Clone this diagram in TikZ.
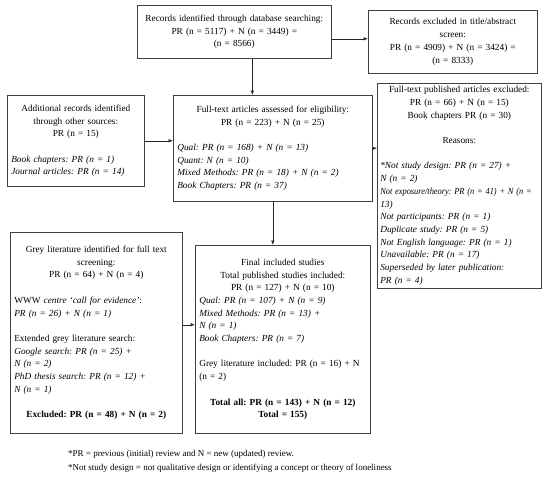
\documentclass[tikz,border=0pt]{standalone}
\usepackage{fontspec}
\usepackage{graphicx}
\setmainfont{Liberation Serif}
\usetikzlibrary{arrows.meta}

\newcommand{\blankline}{\par\vspace{12.7pt}}

\begin{document}
\frenchspacing
\begin{tikzpicture}[x=1pt,y=-1pt,
    box/.style={draw=black!75, line width=0.6pt, anchor=north west, inner sep=4pt,
      font=\fontsize{9.3}{12.7}\selectfont\frenchspacing, align=left},
    flow/.style={draw=black!85, line width=0.6pt, -{Latex[length=4.5pt,width=3.5pt]}},
    note/.style={anchor=west, inner sep=0pt, font=\fontsize{9}{10}\selectfont\frenchspacing}]

  \useasboundingbox (0,0) rectangle (550,480);
  \fill[white] (0,0) rectangle (550,480);

  \node[box, text width=186pt, minimum height=53pt, align=center] (search) at (137,5)
    {Records identified through database searching:\\
     *PR (n = 5117) + N (n = 3449) =\\
     (n = 8566)};
  \node[box, text width=161pt, minimum height=63pt, align=center] (screen) at (368,10)
    {Records excluded in title/abstract\\
     screen:\\
     PR (n = 4909) + N (n = 3424) =\\
     (n = 8333)};
  \node[box, text width=129pt, minimum height=91pt] (other) at (7,95)
    {{\centering Additional records identified\\
      through other sources:\\
      PR (n = 15)\par}\blankline
     \itshape Book chapters: PR (n = 1)\\
     Journal articles: PR (n = 14)};
  \node[box, text width=191pt, minimum height=106pt] (fulltext) at (173,95)
    {{\centering Full-text articles assessed for eligibility:\\
      PR (n = 223) + N (n = 25)\par}\blankline
     \itshape Qual: PR (n = 168) + N (n = 13)\\
     Quant: N (n = 10)\\
     Mixed Methods: PR (n = 18) + N (n = 2)\\
     Book Chapters: PR (n = 37)};
  \node[box, inner sep=3pt, text width=158pt, minimum height=204pt] (excluded) at (377,83)
    {{\centering Full-text published articles excluded:\\
      PR (n = 66) + N (n = 15)\\
      Book chapters PR (n = 30)\par}\blankline
     {\centering Reasons:\par}\blankline
     \itshape *Not study design: PR (n = 27) +\\
     N (n = 2)\\
     \scalebox{0.9}[1]{Not exposure/theory: PR (n = 41) + N (n =}\\
     13)\\
     Not participants: PR (n = 1)\\
     Duplicate study: PR (n = 5)\\
     Not English language: PR (n = 1)\\
     Unavailable: PR (n = 17)\\
     Superseded by later publication:\\
     PR (n = 4)};
  \node[box, text width=164pt, minimum height=201pt] (grey) at (10,232)
    {{\centering Grey literature identified for full text\\
      screening:\\
      PR (n = 64) + N (n = 4)\par}\blankline
     WWW \textit{centre `call for evidence'}:\\
     \textit{PR (n = 26) + N (n = 1)}\blankline
     Extended grey literature search:\\
     \textit{Google search: PR (n = 25) +}\\
     \textit{N (n = 2)}\\
     \textit{PhD thesis search: PR (n = 12) +}\\
     \textit{N (n = 1)}\blankline
     {\centering\bfseries Excluded: PR (n = 48) + N (n = 2)\par}};
  \node[box, text width=167pt, minimum height=188pt] (included) at (195,245)
    {{\centering Final included studies\\
      Total published studies included:\\
      PR (n = 127) + N (n = 10)\par}
     \textit{Qual: PR (n = 107) + N (n = 9)}\\
     \textit{Mixed Methods: PR (n = 13) +}\\
     \textit{N (n = 1)}\\
     \textit{Book Chapters: PR (n = 7)}\blankline
     Grey literature included: PR (n = 16) + N\\
     (n = 2)\blankline
     {\centering\bfseries Total all: PR (n = 143) + N (n = 12)\\
      Total = 155)\par}};

  \node[note] (note1) at (68,454) {*PR = previous (initial) review and N = new (updated) review.};
  \node[note] (note2) at (68,468) {*Not study design = not qualitative design or identifying a concept or theory of loneliness};

  \draw[flow] ([xshift=18pt]search.south) -- ([xshift=18pt]search.south |- fulltext.north);
  \draw[flow] ([yshift=-7pt]search.east) -- ([yshift=-7pt]search.east -| screen.west);
  \draw[flow] (other.east) -- (other.east -| fulltext.west);
  \draw[flow] (fulltext.east) -- (fulltext.east -| excluded.west);
  \draw[flow] (fulltext.south) -- (fulltext.south |- included.north);
  \draw[flow] ([yshift=8pt]grey.east) -- ([yshift=8pt]grey.east -| included.west);
\end{tikzpicture}
\end{document}
